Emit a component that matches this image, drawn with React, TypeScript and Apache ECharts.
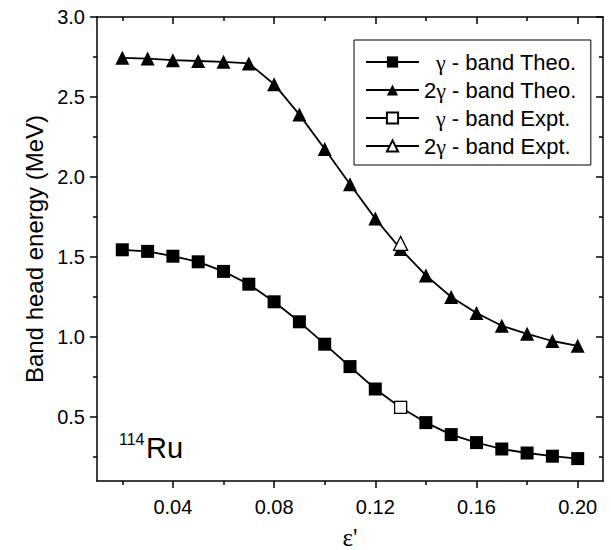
import React, { useEffect, useRef } from "react";
import * as echarts from "echarts";

const xValues = [0.02, 0.03, 0.04, 0.05, 0.06, 0.07, 0.08, 0.09, 0.1, 0.11, 0.12, 0.13, 0.14, 0.15, 0.16, 0.17, 0.18, 0.19, 0.2];
const gammaTheo = [1.545, 1.535, 1.505, 1.47, 1.41, 1.33, 1.22, 1.095, 0.955, 0.815, 0.675, 0.56, 0.465, 0.39, 0.34, 0.3, 0.275, 0.255, 0.24];
const twoGammaTheo = [2.745, 2.74, 2.73, 2.725, 2.72, 2.71, 2.58, 2.39, 2.175, 1.955, 1.74, 1.55, 1.385, 1.25, 1.15, 1.07, 1.02, 0.975, 0.945];
const exptX = [0.13];
const gammaExpt = [0.56];
const twoGammaExpt = [1.585];

const xMajorTicks = [0.04, 0.08, 0.12, 0.16, 0.2];
const xMinorTicks = [0.02, 0.06, 0.1, 0.14, 0.18];
const yMajorTicks = [0.5, 1.0, 1.5, 2.0, 2.5, 3.0];
const yMinorTicks = [0.25, 0.75, 1.25, 1.75, 2.25, 2.75];

const seriesNames = ["γ - band Theo.", "2γ - band Theo.", "γ - band Expt.", "2γ - band Expt."];

const FONT = "Liberation Sans, Arial, sans-serif";
const SERIF = "Liberation Serif, Times New Roman, serif";

export default function App() {
  const ref = useRef<HTMLDivElement>(null);
  useEffect(() => {
    const chart = echarts.init(ref.current!, null, { renderer: "svg" });
    const grid = { left: 97, top: 17, right: 8, bottom: 69 };
    const mkX = (position: string, ticks: number[], len: number, inside: boolean, labels: boolean, line: boolean, name?: string) => ({
      type: "value",
      position,
      min: 0.01,
      max: 0.21,
      name: name || "",
      nameLocation: "middle",
      nameGap: 44,
      nameTextStyle: { fontFamily: SERIF, fontSize: 25, color: "#000" },
      axisLine: { show: line, onZero: false, lineStyle: { color: "#000", width: 1.5 } },
      axisTick: { show: true, customValues: ticks, inside, length: len, lineStyle: { color: "#000", width: 1.5 } },
      axisLabel: labels
        ? { show: true, customValues: xMajorTicks, fontFamily: FONT, fontSize: 20, color: "#000", margin: 16, formatter: (v: number) => v.toFixed(2) }
        : { show: false },
      splitLine: { show: false },
    });
    const mkY = (position: string, ticks: number[], len: number, inside: boolean, labels: boolean, line: boolean, name?: string) => ({
      type: "value",
      position,
      min: 0.1,
      max: 3.0,
      name: name || "",
      nameLocation: "middle",
      nameGap: 50,
      nameTextStyle: { fontFamily: FONT, fontSize: 24, color: "#000" },
      axisLine: { show: line, onZero: false, lineStyle: { color: "#000", width: 1.5 } },
      axisTick: { show: true, customValues: ticks, inside, length: len, lineStyle: { color: "#000", width: 1.5 } },
      axisLabel: labels
        ? { show: true, customValues: yMajorTicks, fontFamily: FONT, fontSize: 20, color: "#000", margin: 12, formatter: (v: number) => v.toFixed(1) }
        : { show: false },
      splitLine: { show: false },
    });
    const pairs = (xs: number[], ys: number[]) => xs.map((x, i) => [x, ys[i]]);
    const legendText = (n: string) => {
      const idx = n.indexOf("γ");
      const pre = n.slice(0, idx);
      const post = n.slice(idx + 1);
      const head = pre ? "{t|" + pre + "}" : "{s| }";
      return head + "{g|γ}{t|" + post + "}";
    };
    chart.setOption({
      animation: false,
      backgroundColor: "#fff",
      grid: { ...grid, containLabel: false, outerBoundsMode: "none" },
      xAxis: [
        mkX("bottom", xMajorTicks, 7, false, true, true, "ε'"),
        mkX("bottom", xMinorTicks, 4, false, false, false),
        mkX("top", xMajorTicks, 7, true, false, true),
        mkX("top", xMinorTicks, 4, true, false, false),
      ],
      yAxis: [
        mkY("left", yMajorTicks, 7, false, true, true, "Band head energy (MeV)"),
        mkY("left", yMinorTicks, 4, false, false, false),
        mkY("right", yMajorTicks, 7, true, false, true),
        mkY("right", yMinorTicks, 4, true, false, false),
      ],
      legend: {
        orient: "vertical",
        left: 354,
        top: 40,
        padding: [11, 14, 8, 11],
        itemGap: 6,
        itemWidth: 53,
        itemHeight: 14,
        borderColor: "#000",
        borderWidth: 1,
        backgroundColor: "#fff",
        data: seriesNames,
        textStyle: {
          fontFamily: FONT,
          fontSize: 22,
          color: "#000",
          rich: {
            t: { fontFamily: FONT, fontSize: 22, color: "#000", lineHeight: 22 },
            g: { fontFamily: SERIF, fontSize: 22, color: "#000", lineHeight: 22 },
            s: { fontFamily: FONT, fontSize: 22, width: 12, lineHeight: 22 },
          },
        },
        formatter: legendText,
      },
      series: [
        {
          name: seriesNames[0],
          type: "line",
          data: pairs(xValues, gammaTheo),
          symbol: "rect",
          symbolSize: 13,
          itemStyle: { color: "#000" },
          lineStyle: { color: "#000", width: 1.8 },
          z: 2,
        },
        {
          name: seriesNames[1],
          type: "line",
          data: pairs(xValues, twoGammaTheo),
          symbol: "triangle",
          symbolSize: 14,
          itemStyle: { color: "#000" },
          lineStyle: { color: "#000", width: 1.8 },
          z: 2,
        },
        {
          name: seriesNames[2],
          type: "line",
          data: pairs(exptX, gammaExpt),
          symbol: "rect",
          symbolSize: 12,
          itemStyle: { color: "#fff", borderColor: "#000", borderWidth: 1.3 },
          lineStyle: { color: "#000", width: 1 },
          z: 5,
        },
        {
          name: seriesNames[3],
          type: "line",
          data: pairs(exptX, twoGammaExpt),
          symbol: "triangle",
          symbolSize: 14,
          itemStyle: { color: "#fff", borderColor: "#000", borderWidth: 1.3 },
          lineStyle: { color: "#000", width: 1 },
          z: 5,
        },
      ],
      graphic: [
        { type: "text", left: 119, top: 431, style: { text: "114", fontFamily: FONT, fontSize: 16, fill: "#000" } },
        { type: "text", left: 146, top: 433, style: { text: "Ru", fontFamily: FONT, fontSize: 29, fill: "#000" } },
      ],
    });
    return () => chart.dispose();
  }, []);
  return <div ref={ref} style={{ width: 611, height: 550, position: "absolute", left: 0, top: 0 }} />;
}
